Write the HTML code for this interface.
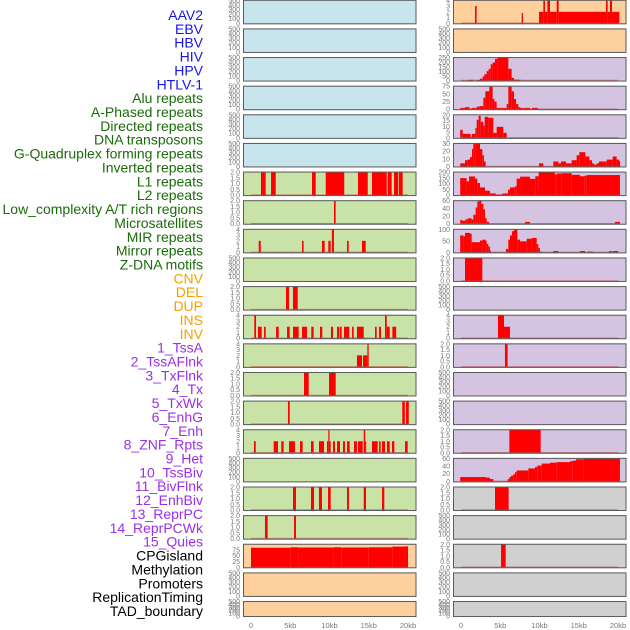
<!DOCTYPE html>
<html><head><meta charset="utf-8"><style>
html,body{margin:0;padding:0;background:#fff;width:630px;height:630px;overflow:hidden}
svg{display:block;font-family:"Liberation Sans",sans-serif}
</style></head><body>
<svg id="chart" width="630" height="630" viewBox="0 0 630 630">
<g id="labels"></g>
<g id="panels"></g>
<g id="xaxes"></g>
</svg>
<script>
// ---- data ----
const trackLabels = ["AAV2","EBV","HBV","HIV","HPV","HTLV-1","Alu repeats","A-Phased repeats","Directed repeats","DNA transposons","G-Quadruplex forming repeats","Inverted repeats","L1 repeats","L2 repeats","Low_complexity A/T rich regions","Microsatellites","MIR repeats","Mirror repeats","Z-DNA motifs","CNV","DEL","DUP","INS","INV","1_TssA","2_TssAFlnk","3_TxFlnk","4_Tx","5_TxWk","6_EnhG","7_Enh","8_ZNF_Rpts","9_Het","10_TssBiv","11_BivFlnk","12_EnhBiv","13_ReprPC","14_ReprPCWk","15_Quies","CPGisland","Methylation","Promoters","ReplicationTiming","TAD_boundary"];
const labelGroupSizes = [6,13,5,15,5];
const labelGroupColors = ["#1515e8","#1a6b0a","#f5a000","#9a30e8","#000000"];
const xTickValues = [0,5,10,15,20];
const xTickLabels = ["0","5kb","10kb","15kb","20kb"];

const ticksEmpty = ["0","100","200","300","400","500"];
const ticksBin = ["0.0","0.5","1.0","1.5","2.0"];
const ticksFour = ["0","1","2","3","4"];
const ticksCpg = ["0","25","50","75"];
const ticksHiv = ["0","50","100","150","200","250"];
const ticksAlu = ["0","25","50","75"];
const ticksDir = ["0","5","10","15","20"];
const ticksGq = ["0","10","20","30"];
const ticksL1 = ["0","50","100","150","200"];
const ticksLowc = ["0","20","40","60"];
const ticksMir = ["0","50","100"];
const ticksTss = ["0","20","40","60"];

// segments: [startKb, endKb, value]
const leftL1 = [[1.27,1.87,2],[2.55,3.15,2],[7.77,8.24,2],[9.52,11.88,2],[13.63,14.87,2],[15.41,17.29,2],[17.41,17.92,2],[18.22,18.76,2],[18.85,19.32,2]];
const leftLowc = [[10.57,10.78,2]];
const leftMir = [[0.98,1.24,2],[6.5,6.7,2],[9.04,9.38,2],[9.85,10.15,2],[10.3,10.57,4],[12.23,12.44,2],[14.14,14.61,2]];
const leftDel = [[4.46,4.84,2],[5.35,5.95,2]];
const leftIns = [[0.42,0.64,4],[0.89,1.36,2],[1.66,1.87,2],[3.19,3.53,2],[4.59,4.93,2],[5.35,6.07,2],[6.5,7.13,2],[7.68,7.98,2],[8.79,9.08,2],[10.19,10.45,2],[10.96,11.21,2],[11.3,11.55,2],[11.85,12.52,2],[12.87,13.08,2],[13.5,14.36,2],[15.8,16.01,2],[16.31,16.56,2],[17.07,17.29,4],[17.29,17.67,2],[18.01,18.49,2]];
const leftInv = [[13.5,14.14,2],[14.27,14.82,2],[14.82,14.99,4]];
const leftTssA = [[6.75,7.35,2],[9.94,10.79,2]];
const leftTssAFlnk = [[4.71,4.93,2],[19.27,19.6,2],[19.75,20.1,2]];
const leftTxFlnk = [[0.38,0.6,2],[2.89,3.44,2],[3.86,4.16,2],[4.84,5.6,2],[6.24,6.58,2],[7.64,7.98,2],[8.66,9.3,2],[9.68,9.85,2],[9.85,10.0,4],[10.0,10.15,2],[10.45,10.7,2],[10.96,11.34,2],[11.72,11.97,2],[12.23,12.57,2],[13.12,13.5,2],[13.63,14.23,2],[14.36,14.55,4],[14.55,14.65,2],[15.41,16.14,2],[16.31,16.52,2],[16.69,17.07,2],[17.32,17.67,2],[17.96,18.26,2],[19.62,19.96,2]];
const leftTxWk = [[5.35,5.73,2],[7.64,8.03,2],[8.66,9.04,2],[9.81,10.15,2],[12.23,12.48,2],[14.36,14.65,2],[16.69,16.98,2]];
const leftEnhG = [[1.78,2.12,2],[5.48,5.73,2]];
const leftCpg = [[0,5,84],[5,6,86],[6,10.5,85],[10.5,11.5,86],[11.5,15,85],[15,18,86],[18,19.5,89],[19.5,20,90]];

const rightAav = [[1.78,1.99,3],[7.73,7.9,1.8],[9.94,10.49,2],[10.49,10.7,4],[10.7,11.0,2],[11.0,11.34,4],[11.34,12.19,2],[12.19,12.44,4],[12.44,18.47,2],[18.47,18.68,4],[18.68,18.98,2],[18.98,19.24,4],[19.24,20.17,2]];
const rightHiv = [[0.93,1.57,8],[2.0,2.42,8],[2.42,2.76,20],[2.76,2.97,45],[2.97,3.27,70],[3.27,3.52,105],[3.52,3.78,130],[3.78,4.03,180],[4.03,4.33,200],[4.33,4.63,240],[4.63,6.03,265],[6.03,6.45,130],[6.45,6.75,30],[6.75,7.6,10]];
const rightAlu = [[-0.1,0.51,5],[0.51,1.06,8],[1.06,1.4,3],[1.4,2.0,5],[2.0,2.34,10],[2.34,2.85,12],[2.85,3.1,45],[3.1,3.61,70],[3.61,4.03,88],[4.03,4.25,40],[4.25,4.54,30],[4.54,5.82,5],[5.82,6.03,20],[6.03,6.45,88],[6.45,6.75,70],[6.75,7.01,40],[7.01,7.3,20],[7.3,7.52,8],[7.52,7.94,5],[8.03,8.79,5],[9.04,9.81,5]];
const rightDir = [[-0.1,0.21,8],[0.21,1.23,4],[1.23,1.4,1],[1.4,1.83,4],[1.83,2.0,10],[2.0,2.25,18],[2.25,2.51,22],[2.51,2.85,16],[2.85,3.01,12],[3.01,3.48,21],[3.48,4.12,20],[4.12,4.54,5],[4.54,5.39,11],[5.39,5.82,5]];
const rightGq = [[-0.1,0.51,5],[0.51,0.81,10],[0.81,1.15,11],[1.15,1.4,15],[1.4,1.57,28],[1.57,1.83,36],[1.83,2.42,38],[2.42,2.72,28],[2.72,2.93,18],[2.93,3.14,8],[9.94,10.49,5],[11.76,12.4,8],[12.4,12.74,5],[12.74,13.38,8],[13.38,14.1,5],[14.1,14.73,10],[14.73,15.07,18],[15.07,15.84,23],[15.84,16.35,16],[16.35,16.69,10],[16.69,16.94,5],[16.94,17.28,3],[17.28,17.58,5],[17.58,18.56,8],[18.56,19.32,11],[19.32,19.83,16],[19.83,20.13,11],[20.13,20.25,9]];
const rightL1 = [[-0.1,0.72,155],[0.72,1.02,125],[1.02,1.78,170],[1.78,2.08,150],[2.08,2.42,110],[2.42,3.06,70],[3.06,3.69,40],[3.69,4.42,15],[4.42,5.27,5],[5.27,5.99,15],[5.99,6.24,50],[6.24,6.84,70],[6.84,7.09,80],[7.09,7.52,150],[7.52,8.79,168],[8.79,9.47,148],[9.47,9.89,172],[9.89,11.97,207],[11.97,12.19,190],[12.19,12.82,197],[12.82,14.1,200],[14.1,15.16,185],[15.16,15.71,172],[15.71,16.01,177],[16.01,20.25,183]];
const rightLowc = [[-0.1,0.21,10],[0.21,0.55,8],[0.55,0.85,12],[0.85,1.36,15],[1.36,1.57,12],[1.57,1.87,25],[1.87,2.08,45],[2.08,2.34,62],[2.34,2.59,67],[2.59,2.85,55],[2.85,3.06,40],[3.06,3.27,15],[3.27,3.57,5],[8.15,8.79,5],[19.62,20.25,5]];
const rightMir = [[-0.1,0.3,100],[0.3,0.51,95],[0.51,1.15,115],[1.15,1.36,110],[1.36,2.42,60],[2.42,2.72,70],[2.72,3.06,75],[3.06,3.27,70],[3.27,3.48,50],[3.48,3.69,35],[3.69,3.82,10],[5.73,6.03,20],[6.03,6.24,75],[6.24,6.5,100],[6.5,6.75,125],[6.75,7.18,135],[7.18,7.52,75],[7.52,8.37,65],[8.37,9.0,80],[9.0,9.64,85],[9.64,9.85,50],[9.85,10.06,25],[10.06,10.28,5],[11.76,12.4,8],[15.16,15.8,8],[16.14,16.77,5],[18.85,19.2,8],[19.32,20.04,8]];
const rightCnv = [[0.51,2.72,2]];
const rightIns = [[4.71,5.48,4],[5.48,6.24,2]];
const rightInv = [[5.6,5.94,2]];
const rightEnh = [[6.16,10.15,2]];
const rightTssBiv = [[-0.1,3.18,15],[3.18,3.69,13],[3.69,4.12,8],[5.94,6.16,8],[6.16,6.37,15],[6.37,6.67,20],[6.67,6.88,25],[6.88,7.09,32],[7.09,8.58,38],[8.58,9.43,45],[9.43,9.72,50],[9.72,10.28,55],[10.28,11.34,62],[11.34,12.19,65],[12.19,13.89,67],[13.89,14.23,70],[14.23,14.65,72],[14.65,15.58,77],[15.58,20.25,79]];
const rightBivFlnk = [[4.33,6.07,2]];
const rightReprPC = [[5.1,5.69,2]];

const BLUE="#c8e4ec", GREEN="#c9e2a7", ORANGE="#fdd09e", PURPLE="#d5c4e1", GRAY="#d0d0d0";
// panel definitions: [row, col, bg, ticks, ymax, segments]
const panelDefs = [
 [0,0,BLUE,ticksEmpty,500,null],[1,0,BLUE,ticksEmpty,500,null],[2,0,BLUE,ticksEmpty,500,null],
 [3,0,BLUE,ticksEmpty,500,null],[4,0,BLUE,ticksEmpty,500,null],[5,0,BLUE,ticksEmpty,500,null],
 [6,0,GREEN,ticksBin,2,leftL1],[7,0,GREEN,ticksBin,2,leftLowc],[8,0,GREEN,ticksFour,4,leftMir],
 [9,0,GREEN,ticksEmpty,500,null],[10,0,GREEN,ticksBin,2,leftDel],[11,0,GREEN,ticksFour,4,leftIns],
 [12,0,GREEN,ticksFour,4,leftInv],[13,0,GREEN,ticksBin,2,leftTssA],[14,0,GREEN,ticksBin,2,leftTssAFlnk],
 [15,0,GREEN,ticksFour,4,leftTxFlnk],[16,0,GREEN,ticksEmpty,500,null],[17,0,GREEN,ticksBin,2,leftTxWk],
 [18,0,GREEN,ticksBin,2,leftEnhG],[19,0,ORANGE,ticksCpg,99,leftCpg],[20,0,ORANGE,ticksEmpty,500,null],
 [21,0,ORANGE,ticksEmpty,500,null],
 [0,1,ORANGE,ticksFour,4,rightAav],[1,1,ORANGE,ticksEmpty,500,null],[2,1,PURPLE,ticksHiv,255,rightHiv],
 [3,1,PURPLE,ticksAlu,90,rightAlu],[4,1,PURPLE,ticksDir,23,rightDir],[5,1,PURPLE,ticksGq,37,rightGq],
 [6,1,PURPLE,ticksL1,210,rightL1],[7,1,PURPLE,ticksLowc,64,rightLowc],[8,1,PURPLE,ticksMir,136,rightMir],
 [9,1,PURPLE,ticksBin,2,rightCnv],[10,1,PURPLE,ticksEmpty,500,null],[11,1,PURPLE,ticksFour,4,rightIns],
 [12,1,PURPLE,ticksBin,2,rightInv],[13,1,PURPLE,ticksEmpty,500,null],[14,1,PURPLE,ticksEmpty,500,null],
 [15,1,PURPLE,ticksBin,2,rightEnh],[16,1,PURPLE,ticksTss,80,rightTssBiv],[17,1,GRAY,ticksBin,2,rightBivFlnk],
 [18,1,GRAY,ticksEmpty,500,null],[19,1,GRAY,ticksBin,2,rightReprPC],[20,1,GRAY,ticksEmpty,500,null],
 [21,1,GRAY,ticksEmpty,500,null]
];

// ---- layout ----
const NS="http://www.w3.org/2000/svg";
const colLeft=[243,453], colW=173.5, colZero=[251,461], pxPerKb=7.85;
function rowTop(r){return -0.2+28.63*r;}
function rowH(r){return r===21?16:24.5;}
function xScale(col,kb){return colZero[col]+kb*pxPerKb;}
function yScale(r,v,ymax){const t=rowTop(r),h=rowH(r);const y0=t+h-1,y1=t+0.5;return y0-(v/ymax)*(y0-y1);}
function mk(tag,parent){const e=document.createElementNS(NS,tag);parent.appendChild(e);return e;}

// labels
const lg=document.getElementById('labels');
let gi=0,cnt=0;
trackLabels.forEach((t,i)=>{
  while(cnt>=labelGroupSizes[gi]){cnt-=labelGroupSizes[gi];gi++;}
  const tx=mk('text',lg);
  
  
  tx.setAttribute('x',203);tx.setAttribute('y',15+13.86*i+5);
  tx.setAttribute('text-anchor','end');tx.setAttribute('font-size','14');
  tx.setAttribute('fill',labelGroupColors[gi]);
  tx.textContent=t;cnt++;
});

// panels
const pg=document.getElementById('panels');
panelDefs.forEach(d=>{
  const [r,col,bg,ticks,ymax,segs]=d;
  const g=mk('g',pg);
  
  
  const t=rowTop(r),h=rowH(r),x0=colLeft[col];
  const cp=mk('clipPath',g);const cid='c'+r+'_'+col;cp.setAttribute('id',cid);
  const cr=mk('rect',cp);cr.setAttribute('x',x0);cr.setAttribute('y',t);cr.setAttribute('width',colW);cr.setAttribute('height',h);
  const bgR=mk('rect',g);
  
  
  bgR.setAttribute('x',x0);bgR.setAttribute('y',t);bgR.setAttribute('width',colW);bgR.setAttribute('height',h);
  bgR.setAttribute('fill',bg);
  const n=ticks.length;
  ticks.forEach((lab,i)=>{
    const v=ymax===99?i*25:(i/(n-1))*ymax;
    const tx=mk('text',g);
    
    
    tx.setAttribute('x',x0-3);tx.setAttribute('y',yScale(r,v,ymax)+2.5);
    tx.setAttribute('text-anchor','end');tx.setAttribute('font-size','7');tx.setAttribute('fill','#777');
    tx.textContent=lab;
  });
  if(segs){
    const dg=mk('g',g);dg.setAttribute('clip-path','url(#'+cid+')');
    segs.forEach(s=>{
      const rc=mk('rect',dg);
      
      
      const xa=xScale(col,s[0]),xb=xScale(col,s[1]);
      const ya=yScale(r,s[2],ymax),yb=yScale(r,0,ymax);
      rc.setAttribute('x',xa);rc.setAttribute('width',Math.max(1,xb-xa));
      rc.setAttribute('y',ya);rc.setAttribute('height',Math.max(0,yb-ya));
      rc.setAttribute('fill','#ff0000');
    });
    const bl=mk('line',g);
    
    
    bl.setAttribute('x1',xScale(col,0));bl.setAttribute('x2',xScale(col,20));
    bl.setAttribute('y1',yScale(r,0,ymax));bl.setAttribute('y2',yScale(r,0,ymax));
    bl.setAttribute('stroke','rgba(190,60,60,0.55)');bl.setAttribute('stroke-width','1.5');
  }
  const br=mk('rect',g);
  
  
  br.setAttribute('x',x0+0.5);br.setAttribute('y',t+0.5);br.setAttribute('width',colW-1);br.setAttribute('height',h-1);
  br.setAttribute('fill','none');br.setAttribute('stroke','#5a5a5a');br.setAttribute('stroke-width','1');
});

// x axes
const xg=document.getElementById('xaxes');
[0,1].forEach(col=>{
  xTickValues.forEach((v,i)=>{
    const tx=mk('text',xg);
    
    
    tx.setAttribute('x',xScale(col,v));tx.setAttribute('y',628);
    tx.setAttribute('text-anchor','middle');tx.setAttribute('font-size','7.5');tx.setAttribute('fill','#777');
    tx.textContent=xTickLabels[i];
  });
});
</script>
</body></html>
